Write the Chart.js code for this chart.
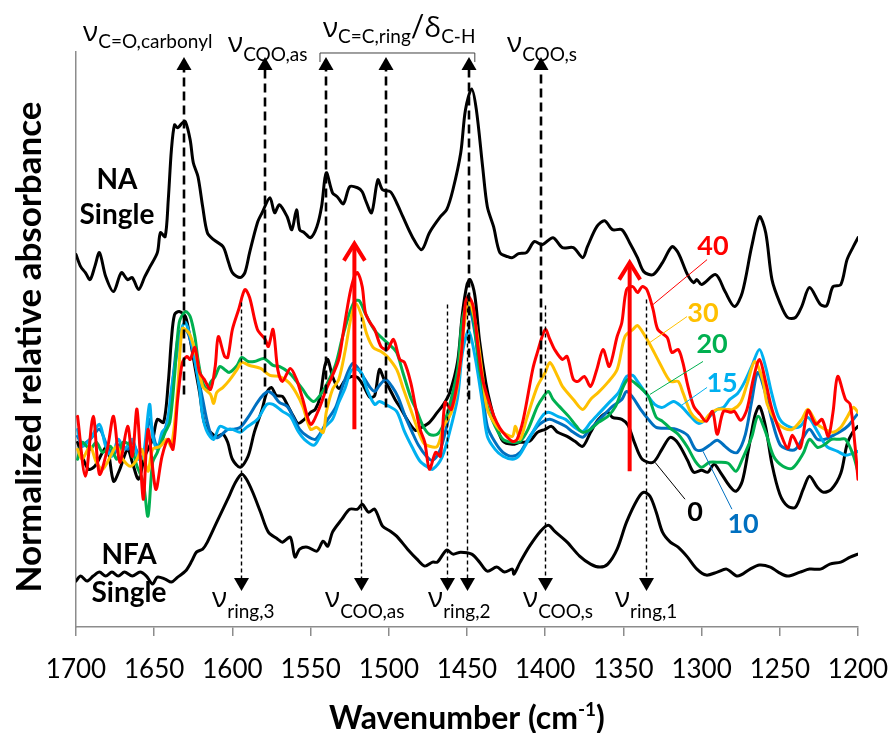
<!DOCTYPE html>
<html>
<head>
<meta charset="utf-8">
<script src="https://cdn.jsdelivr.net/npm/chart.js@4.4.1/dist/chart.umd.min.js"></script>
<style>
  html, body { margin: 0; padding: 0; background: #ffffff; }
  #wrap { width: 892px; height: 733px; }
</style>
</head>
<body>
<div id="wrap"><canvas id="c" width="892" height="733"></canvas></div>
<script>
// ---- spectra: wavenumber (cm-1) and normalized relative absorbance ----
const wnNA = [1700,1697,1694,1691,1688,1685,1681,1676,1671,1667,1664,1660,1656,1653,1648,1646,1643,1641,1639,1637,1635,1632,1630,1627,1625,1622,1619,1616,1612,1606,1603,1600,1595,1592,1589,1584,1581,1576,1573,1570,1565,1562,1559,1557,1554,1550,1546,1543,1540,1536,1533,1529,1525,1520,1517,1515,1511,1507,1504,1499,1495,1491,1485,1479,1474,1467,1463,1459,1454,1451,1447,1444,1440,1437,1433,1429,1424,1421,1417,1412,1407,1402,1395,1389,1382,1376,1373,1367,1362,1357,1351,1346,1341,1337,1331,1325,1319,1315,1309,1305,1303,1300,1291,1285,1279,1274,1268,1263,1259,1255,1250,1245,1240,1236,1231,1224,1220,1216,1211,1207,1203,1200];
const absNA = [0.746,0.722,0.710,0.696,0.722,0.750,0.702,0.672,0.710,0.696,0.700,0.676,0.702,0.720,0.750,0.790,0.782,0.856,0.956,1.006,1.000,1.010,1.012,0.976,0.930,0.902,0.842,0.790,0.776,0.762,0.736,0.710,0.700,0.710,0.750,0.810,0.830,0.860,0.830,0.846,0.822,0.796,0.836,0.796,0.790,0.780,0.802,0.842,0.910,0.870,0.862,0.848,0.882,0.880,0.872,0.856,0.830,0.896,0.876,0.872,0.850,0.822,0.782,0.756,0.790,0.822,0.836,0.876,0.950,1.036,1.078,1.036,0.922,0.842,0.802,0.750,0.742,0.740,0.748,0.750,0.772,0.766,0.780,0.760,0.760,0.740,0.762,0.802,0.814,0.796,0.796,0.770,0.740,0.712,0.706,0.730,0.762,0.750,0.706,0.690,0.696,0.686,0.706,0.672,0.642,0.670,0.762,0.822,0.790,0.696,0.650,0.620,0.620,0.642,0.680,0.646,0.644,0.682,0.686,0.736,0.762,0.780];

const wnNFA = [1700,1697,1693,1689,1685,1681,1677,1673,1669,1664,1659,1655,1651,1648,1643,1639,1635,1630,1626,1623,1619,1616,1610,1603,1598,1594,1591,1587,1582,1577,1571,1568,1563,1560,1557,1552,1546,1542,1539,1536,1530,1525,1520,1517,1513,1509,1504,1499,1495,1488,1482,1477,1472,1469,1463,1459,1454,1447,1442,1437,1431,1426,1421,1420,1416,1410,1403,1398,1394,1386,1378,1371,1365,1360,1354,1348,1341,1337,1333,1329,1325,1320,1315,1309,1303,1297,1290,1284,1277,1269,1263,1256,1251,1245,1237,1231,1224,1218,1211,1205,1200];
const absNFA = [0.092,0.102,0.092,0.102,0.110,0.102,0.110,0.102,0.110,0.102,0.110,0.102,0.086,0.100,0.096,0.090,0.100,0.112,0.132,0.150,0.156,0.170,0.210,0.256,0.290,0.306,0.296,0.270,0.230,0.190,0.176,0.170,0.180,0.140,0.156,0.160,0.152,0.172,0.162,0.190,0.216,0.236,0.236,0.246,0.230,0.236,0.202,0.192,0.182,0.156,0.136,0.122,0.130,0.130,0.154,0.146,0.150,0.146,0.130,0.112,0.120,0.110,0.116,0.106,0.130,0.162,0.192,0.204,0.192,0.170,0.142,0.126,0.120,0.126,0.156,0.210,0.256,0.270,0.262,0.230,0.190,0.170,0.160,0.140,0.116,0.104,0.110,0.116,0.102,0.116,0.124,0.120,0.110,0.102,0.110,0.116,0.116,0.126,0.130,0.140,0.146];

const wn40 = [1699,1694,1689,1685,1680,1676,1672,1667,1664,1661,1657,1654,1649,1645,1641,1638,1635,1632,1629,1627,1624,1621,1618,1614,1611,1609,1605,1603,1600,1596,1592,1589,1584,1579,1577,1574,1571,1568,1563,1559,1555,1550,1545,1540,1536,1532,1529,1525,1522,1520,1517,1515,1512,1509,1505,1501,1497,1493,1490,1486,1483,1480,1477,1474,1470,1467,1464,1460,1454,1451,1449,1446,1443,1440,1435,1431,1427,1421,1418,1414,1408,1405,1400,1397,1394,1389,1386,1382,1379,1375,1371,1367,1363,1359,1354,1351,1348,1344,1341,1338,1335,1331,1328,1322,1319,1315,1312,1309,1305,1301,1297,1293,1290,1286,1281,1279,1275,1271,1267,1263,1259,1255,1250,1245,1242,1237,1232,1227,1223,1219,1216,1213,1208,1205,1202,1200];
const abs40 = [0.422,0.302,0.422,0.306,0.356,0.422,0.330,0.402,0.342,0.436,0.256,0.396,0.276,0.342,0.376,0.356,0.456,0.530,0.542,0.536,0.560,0.510,0.496,0.476,0.522,0.582,0.542,0.540,0.596,0.636,0.676,0.660,0.596,0.576,0.562,0.596,0.516,0.492,0.518,0.496,0.456,0.406,0.434,0.476,0.504,0.536,0.592,0.666,0.702,0.710,0.682,0.630,0.610,0.596,0.562,0.556,0.576,0.536,0.530,0.490,0.442,0.396,0.370,0.316,0.350,0.342,0.450,0.436,0.536,0.650,0.662,0.642,0.562,0.496,0.442,0.410,0.390,0.372,0.376,0.416,0.516,0.550,0.596,0.576,0.556,0.536,0.542,0.496,0.492,0.502,0.482,0.516,0.556,0.522,0.582,0.610,0.676,0.682,0.670,0.682,0.676,0.636,0.596,0.580,0.550,0.556,0.530,0.486,0.442,0.426,0.412,0.432,0.386,0.432,0.430,0.432,0.414,0.436,0.496,0.536,0.490,0.436,0.392,0.358,0.384,0.358,0.434,0.406,0.416,0.382,0.430,0.502,0.456,0.446,0.366,0.296];

const wn30 = [1699,1696,1691,1687,1683,1678,1674,1670,1665,1661,1658,1654,1651,1646,1642,1639,1635,1632,1628,1626,1623,1619,1614,1612,1610,1606,1602,1597,1594,1589,1582,1576,1570,1564,1559,1555,1550,1546,1542,1540,1536,1532,1528,1524,1521,1517,1514,1510,1505,1501,1495,1491,1486,1482,1478,1474,1469,1465,1460,1456,1452,1449,1445,1440,1437,1431,1427,1421,1419,1416,1412,1405,1400,1397,1392,1389,1382,1376,1371,1366,1360,1354,1349,1344,1341,1336,1333,1327,1320,1315,1312,1307,1303,1299,1295,1290,1284,1280,1275,1271,1266,1261,1258,1252,1247,1242,1236,1232,1226,1221,1216,1211,1207,1203,1200];
const abs30 = [0.356,0.336,0.362,0.330,0.316,0.342,0.362,0.336,0.322,0.336,0.356,0.312,0.356,0.362,0.376,0.362,0.476,0.598,0.590,0.576,0.542,0.482,0.466,0.448,0.470,0.480,0.494,0.516,0.530,0.524,0.518,0.504,0.502,0.490,0.468,0.442,0.396,0.400,0.390,0.430,0.476,0.496,0.552,0.622,0.648,0.620,0.586,0.560,0.552,0.542,0.516,0.480,0.436,0.400,0.370,0.362,0.362,0.402,0.430,0.486,0.600,0.652,0.616,0.502,0.436,0.402,0.390,0.382,0.402,0.376,0.416,0.482,0.510,0.530,0.502,0.482,0.456,0.436,0.456,0.470,0.490,0.516,0.582,0.596,0.604,0.582,0.566,0.530,0.492,0.492,0.470,0.430,0.416,0.412,0.426,0.436,0.436,0.436,0.450,0.486,0.532,0.496,0.446,0.410,0.398,0.396,0.416,0.436,0.406,0.396,0.390,0.400,0.420,0.440,0.430];

const wn20 = [1699,1696,1691,1687,1683,1678,1674,1670,1665,1661,1657,1654,1651,1648,1643,1640,1637,1634,1630,1627,1624,1622,1619,1616,1614,1611,1608,1605,1602,1597,1594,1590,1586,1580,1577,1574,1570,1564,1560,1555,1552,1548,1544,1540,1534,1530,1526,1522,1519,1515,1511,1508,1504,1499,1495,1491,1486,1482,1478,1474,1469,1465,1461,1456,1453,1449,1446,1442,1437,1432,1427,1421,1416,1411,1405,1401,1398,1395,1391,1385,1380,1376,1371,1366,1360,1355,1350,1347,1343,1338,1334,1329,1325,1320,1315,1309,1304,1300,1295,1289,1283,1278,1274,1268,1264,1259,1254,1248,1242,1235,1231,1226,1222,1217,1212,1208,1203,1200];
const abs20 = [0.336,0.370,0.356,0.370,0.350,0.362,0.336,0.370,0.362,0.322,0.290,0.222,0.330,0.350,0.390,0.410,0.502,0.610,0.632,0.622,0.582,0.536,0.490,0.476,0.490,0.502,0.522,0.516,0.510,0.524,0.540,0.532,0.532,0.538,0.532,0.524,0.522,0.510,0.496,0.476,0.462,0.452,0.464,0.484,0.526,0.576,0.620,0.652,0.654,0.628,0.604,0.590,0.578,0.564,0.550,0.510,0.460,0.432,0.402,0.386,0.386,0.406,0.446,0.516,0.616,0.656,0.622,0.516,0.442,0.402,0.376,0.370,0.372,0.396,0.442,0.462,0.472,0.456,0.442,0.422,0.402,0.390,0.396,0.410,0.422,0.442,0.482,0.496,0.490,0.476,0.462,0.420,0.412,0.398,0.386,0.360,0.332,0.320,0.330,0.330,0.328,0.312,0.336,0.380,0.422,0.390,0.342,0.322,0.318,0.348,0.376,0.360,0.364,0.376,0.376,0.376,0.344,0.310];

const wn15 = [1699,1696,1691,1685,1681,1677,1673,1669,1664,1660,1657,1653,1651,1648,1645,1642,1639,1635,1632,1630,1627,1624,1621,1619,1616,1612,1608,1603,1600,1595,1591,1584,1578,1574,1568,1563,1558,1554,1548,1545,1541,1536,1532,1528,1524,1520,1517,1514,1509,1506,1501,1495,1490,1485,1480,1475,1472,1466,1461,1456,1453,1449,1445,1440,1437,1432,1427,1421,1417,1413,1408,1402,1398,1392,1387,1382,1376,1371,1365,1359,1353,1348,1344,1341,1335,1330,1325,1318,1313,1307,1302,1297,1290,1286,1282,1277,1273,1268,1263,1259,1255,1250,1243,1237,1232,1226,1220,1213,1208,1203,1200];
const abs15 = [0.396,0.362,0.376,0.406,0.362,0.342,0.376,0.356,0.376,0.336,0.342,0.446,0.382,0.356,0.390,0.402,0.476,0.556,0.602,0.610,0.582,0.536,0.476,0.422,0.390,0.376,0.402,0.396,0.396,0.390,0.400,0.416,0.446,0.446,0.432,0.422,0.392,0.376,0.364,0.376,0.400,0.416,0.450,0.478,0.514,0.516,0.506,0.476,0.446,0.452,0.444,0.432,0.392,0.360,0.332,0.320,0.316,0.340,0.392,0.460,0.548,0.594,0.544,0.446,0.382,0.356,0.342,0.336,0.342,0.362,0.390,0.422,0.430,0.422,0.416,0.402,0.392,0.410,0.430,0.450,0.470,0.502,0.504,0.492,0.466,0.446,0.440,0.452,0.442,0.422,0.408,0.416,0.436,0.440,0.456,0.468,0.488,0.522,0.556,0.520,0.466,0.416,0.400,0.402,0.420,0.392,0.362,0.352,0.344,0.348,0.352];

const wn10 = [1699,1696,1691,1685,1680,1676,1672,1667,1664,1659,1656,1653,1649,1646,1643,1640,1637,1634,1630,1627,1623,1619,1616,1613,1609,1603,1600,1595,1590,1584,1580,1577,1574,1570,1565,1561,1557,1552,1547,1543,1539,1534,1530,1526,1523,1520,1516,1512,1509,1506,1502,1498,1494,1490,1485,1481,1476,1472,1467,1463,1461,1456,1453,1449,1445,1440,1437,1432,1427,1421,1416,1411,1405,1401,1397,1392,1387,1382,1376,1373,1367,1362,1357,1351,1348,1344,1339,1334,1329,1322,1316,1309,1304,1300,1295,1290,1285,1281,1277,1272,1268,1264,1259,1255,1250,1245,1240,1235,1231,1226,1221,1217,1211,1206,1202,1200];
const abs10 = [0.382,0.366,0.376,0.396,0.362,0.346,0.366,0.356,0.370,0.340,0.346,0.416,0.366,0.366,0.396,0.436,0.526,0.590,0.596,0.576,0.516,0.456,0.410,0.382,0.380,0.396,0.396,0.400,0.420,0.450,0.466,0.472,0.466,0.450,0.442,0.420,0.396,0.382,0.376,0.392,0.416,0.440,0.478,0.512,0.528,0.520,0.500,0.480,0.472,0.484,0.496,0.482,0.460,0.426,0.390,0.364,0.342,0.334,0.356,0.402,0.430,0.502,0.602,0.642,0.590,0.470,0.402,0.370,0.350,0.342,0.350,0.376,0.402,0.412,0.416,0.410,0.402,0.390,0.380,0.390,0.410,0.426,0.442,0.456,0.472,0.460,0.436,0.416,0.400,0.398,0.396,0.384,0.356,0.354,0.364,0.374,0.362,0.352,0.350,0.386,0.452,0.510,0.466,0.414,0.366,0.356,0.356,0.380,0.396,0.376,0.376,0.382,0.392,0.404,0.420,0.428];

const wn0 = [1699,1696,1692,1688,1683,1680,1676,1672,1667,1664,1660,1656,1651,1648,1644,1641,1639,1637,1634,1630,1627,1624,1621,1618,1614,1610,1606,1603,1600,1595,1590,1586,1581,1578,1575,1572,1568,1565,1561,1558,1554,1550,1547,1544,1541,1539,1536,1532,1528,1524,1520,1516,1512,1509,1506,1503,1500,1496,1492,1488,1483,1479,1474,1469,1465,1461,1456,1453,1450,1448,1445,1442,1438,1435,1431,1427,1421,1416,1410,1405,1400,1396,1392,1386,1381,1376,1371,1366,1360,1357,1351,1347,1343,1338,1331,1325,1320,1315,1309,1305,1300,1296,1292,1288,1282,1278,1274,1270,1266,1263,1259,1255,1250,1245,1240,1235,1231,1226,1222,1217,1211,1207,1203,1200];
const abs0 = [0.370,0.342,0.316,0.322,0.350,0.362,0.292,0.316,0.356,0.330,0.296,0.342,0.376,0.416,0.410,0.490,0.576,0.626,0.632,0.622,0.576,0.522,0.470,0.410,0.390,0.382,0.386,0.370,0.336,0.320,0.342,0.390,0.436,0.470,0.480,0.464,0.462,0.446,0.422,0.408,0.416,0.430,0.436,0.460,0.522,0.536,0.502,0.478,0.494,0.502,0.500,0.482,0.460,0.464,0.516,0.496,0.480,0.456,0.436,0.414,0.394,0.400,0.410,0.430,0.446,0.470,0.532,0.626,0.686,0.696,0.664,0.574,0.490,0.446,0.402,0.372,0.366,0.370,0.372,0.390,0.396,0.402,0.390,0.382,0.372,0.362,0.390,0.416,0.430,0.420,0.416,0.404,0.370,0.336,0.330,0.358,0.380,0.368,0.334,0.310,0.314,0.310,0.326,0.310,0.282,0.272,0.292,0.356,0.422,0.442,0.400,0.326,0.266,0.242,0.240,0.276,0.302,0.280,0.270,0.276,0.308,0.366,0.392,0.402];

const xTicks = [1700, 1650, 1600, 1550, 1500, 1450, 1400, 1350, 1300, 1250, 1200];
const seriesNames = ['40', '30', '20', '15', '10', '0'];

// ---- band assignments ----
const naBandWn = [1631, 1579, 1540, 1502, 1449, 1403];
const naBandFoot = [0.466, 0.482, 0.44, 0.44, 0.456, 0.50];
const nfaBandWn = [1594.5, 1518, 1463, 1450, 1400, 1335.5];
const nfaBandTop = [0.65, 0.62, 0.646, 0.666, 0.644, 0.656];
const growthWn = [1522, 1346];
const growthFrom = [0.396, 0.312];
const growthTo = [0.770, 0.732];

const FONT = 'Lato, "Open Sans", "DejaVu Sans", sans-serif';
const GREEK = '"Open Sans", "DejaVu Sans", sans-serif';
const COLORS = { '40': '#FF0000', '30': '#FFC000', '20': '#00B050', '15': '#00B0F0', '10': '#0070C0', '0': '#000000' };

function series(label, wn, abs, color) {
  const n = Math.min(wn.length, abs.length);
  const pts = [];
  for (let i = 0; i < n; i++) pts.push({ x: wn[i], y: abs[i] });
  return { label, data: pts, borderColor: color, backgroundColor: color, borderWidth: 3,
           pointRadius: 0, tension: 0.3, fill: false, borderJoinStyle: 'round', borderCapStyle: 'round' };
}

// label layout (wavenumber, absorbance) for series tags and their leader lines
const tagLayout = {
  '40': { at: [1292.7, 0.762], from: [1296.5, 0.736], to: [1331.1, 0.646] },
  '30': { at: [1299.1, 0.628], from: [1309.3, 0.622], to: [1334.9, 0.566] },
  '20': { at: [1293.3, 0.566], from: [1299.1, 0.532], to: [1333.0, 0.466] },
  '15': { at: [1286.9, 0.488], from: [1296.5, 0.480], to: [1313.8, 0.442] },
  '10': { at: [1273.5, 0.206], from: [1280.6, 0.236], to: [1299.1, 0.352] },
  '0':  { at: [1304.2, 0.230], from: [1310.6, 0.256], to: [1329.8, 0.330] }
};

// band labels: [wavenumber of left edge, absorbance of baseline, runs]
const topLabels = [
  [1695.5, 1.174, [['ν', 28, 0, 1], ['C=O,carbonyl', 19, 7]]],
  [1602.8, 1.152, [['ν', 28, 0, 1], ['COO,as', 19, 9]]],
  [1542.1, 1.182, [['ν', 28, 0, 1], ['C=C,ring', 19, 6], ['/', 30, 0], ['δ', 28, 0, 1], ['C-H', 19, 6]]],
  [1424.4, 1.152, [['ν', 28, 0, 1], ['COO,s', 19, 9]]]
];
const bottomLabels = [
  [1613.0, 0.040, [['ν', 28, 0, 1], ['ring,3', 19, 11]]],
  [1540.8, 0.040, [['ν', 28, 0, 1], ['COO,as', 19, 11]]],
  [1474.9, 0.040, [['ν', 28, 0, 1], ['ring,2', 19, 11]]],
  [1414.2, 0.040, [['ν', 28, 0, 1], ['COO,s', 19, 11]]],
  [1355.4, 0.040, [['ν', 28, 0, 1], ['ring,1', 19, 11]]]
];

function drawRuns(ctx, x, y, runs) {
  let cx = x;
  ctx.textAlign = 'left';
  ctx.textBaseline = 'alphabetic';
  runs.forEach(([t, size, dy, greek]) => {
    ctx.font = `${size}px ${greek ? GREEK : FONT}`;
    ctx.fillText(t, cx, y + dy);
    cx += ctx.measureText(t).width;
  });
}

function tri(ctx, x, tipY, dir) {
  ctx.beginPath();
  ctx.moveTo(x, tipY);
  ctx.lineTo(x - 7.5, tipY + dir * 13);
  ctx.lineTo(x + 7.5, tipY + dir * 13);
  ctx.closePath();
  ctx.fill();
}

const annotations = {
  id: 'bandAnnotations',
  afterDraw(chart) {
    const { ctx, scales: { x, y } } = chart;
    const px = w => x.getPixelForValue(w);
    const py = v => y.getPixelForValue(v);
    ctx.save();

    // NA bands: bold dashed arrows pointing up
    ctx.strokeStyle = '#000'; ctx.fillStyle = '#000';
    naBandWn.forEach((w, i) => {
      const X = Math.round(px(w)), tip = py(1.142);
      ctx.lineWidth = 2.6; ctx.setLineDash([9, 5]);
      ctx.beginPath(); ctx.moveTo(X, py(naBandFoot[i])); ctx.lineTo(X, tip + 12); ctx.stroke();
      ctx.setLineDash([]);
      tri(ctx, X, tip, 1);
    });

    // bracket over the ring / C-H group
    ctx.lineWidth = 1; ctx.strokeStyle = '#404040';
    ctx.beginPath();
    ctx.moveTo(px(1544), py(1.132)); ctx.lineTo(px(1544), py(1.150));
    ctx.lineTo(px(1445), py(1.150)); ctx.lineTo(px(1445), py(1.132));
    ctx.stroke();

    // NFA bands: thin dashed arrows pointing down
    ctx.strokeStyle = '#000'; ctx.fillStyle = '#000';
    nfaBandWn.forEach((w, i) => {
      const X = Math.round(px(w)) + 0.5, tip = py(0.072);
      ctx.lineWidth = 1.4; ctx.setLineDash([4, 3]);
      ctx.beginPath(); ctx.moveTo(X, py(nfaBandTop[i])); ctx.lineTo(X, tip - 12); ctx.stroke();
      ctx.setLineDash([]);
      tri(ctx, X, tip, -1);
    });

    // growth arrows
    ctx.strokeStyle = '#FF0000'; ctx.lineWidth = 4; ctx.lineJoin = 'miter'; ctx.lineCap = 'butt';
    growthWn.forEach((w, i) => {
      const X = px(w), y0 = py(growthFrom[i]), y1 = py(growthTo[i]);
      ctx.beginPath(); ctx.moveTo(X, y0); ctx.lineTo(X, y1 + 2); ctx.stroke();
      ctx.beginPath(); ctx.moveTo(X - 10.5, y1 + 18); ctx.lineTo(X, y1 + 1); ctx.lineTo(X + 10.5, y1 + 18); ctx.stroke();
    });

    // series tags with leader lines
    seriesNames.forEach(name => {
      const L = tagLayout[name], c = COLORS[name];
      ctx.strokeStyle = c; ctx.lineWidth = 1;
      ctx.beginPath(); ctx.moveTo(px(L.from[0]), py(L.from[1])); ctx.lineTo(px(L.to[0]), py(L.to[1])); ctx.stroke();
      ctx.fillStyle = c; ctx.font = `bold 27px ${FONT}`;
      ctx.textAlign = 'center'; ctx.textBaseline = 'middle';
      ctx.fillText(name, px(L.at[0]), py(L.at[1]));
    });

    // band labels
    ctx.fillStyle = '#000';
    topLabels.concat(bottomLabels).forEach(([w, v, runs]) => drawRuns(ctx, px(w), py(v), runs));

    // spectrum names
    ctx.font = `bold 28px ${FONT}`; ctx.textAlign = 'center'; ctx.textBaseline = 'alphabetic';
    ctx.fillText('NA', px(1673.8), py(0.878));
    ctx.fillText('Single', px(1673.8), py(0.808));
    ctx.fillText('NFA', px(1666.1), py(0.126));
    ctx.fillText('Single', px(1666.1), py(0.050));

    // axis titles
    ctx.save();
    ctx.translate(30, 347);
    ctx.rotate(-Math.PI / 2);
    ctx.font = `bold 35px ${FONT}`; ctx.textAlign = 'center'; ctx.textBaseline = 'middle';
    ctx.fillText('Normalized relative absorbance', 0, 0);
    ctx.restore();

    const t1 = 'Wavenumber (cm', t2 = '-1', t3 = ')';
    ctx.textAlign = 'left'; ctx.textBaseline = 'alphabetic';
    ctx.font = `bold 32px ${FONT}`; const w1 = ctx.measureText(t1).width, w3 = ctx.measureText(t3).width;
    ctx.font = `bold 19px ${FONT}`; const w2 = ctx.measureText(t2).width;
    let sx = (chart.chartArea.left + chart.chartArea.right) / 2 - (w1 + w2 + w3) / 2;
    const base = 729;
    ctx.font = `bold 32px ${FONT}`; ctx.fillText(t1, sx, base); sx += w1;
    ctx.font = `bold 19px ${FONT}`; ctx.fillText(t2, sx, base - 13); sx += w2;
    ctx.font = `bold 32px ${FONT}`; ctx.fillText(t3, sx, base);

    ctx.restore();
  }
};

new Chart(document.getElementById('c'), {
  type: 'line',
  data: {
    datasets: [
      series('40', wn40, abs40, COLORS['40']),
      series('30', wn30, abs30, COLORS['30']),
      series('20', wn20, abs20, COLORS['20']),
      series('15', wn15, abs15, COLORS['15']),
      series('10', wn10, abs10, COLORS['10']),
      series('0', wn0, abs0, COLORS['0']),
      series('NA Single', wnNA, absNA, '#000000'),
      series('NFA Single', wnNFA, absNFA, '#000000')
    ]
  },
  options: {
    responsive: false,
    animation: false,
    devicePixelRatio: 1,
    layout: { padding: { top: 52, right: 34, left: 0, bottom: 0 } },
    plugins: { legend: { display: false }, tooltip: { enabled: false } },
    scales: {
      x: {
        type: 'linear', reverse: true, min: 1200, max: 1700,
        afterBuildTicks: s => { s.ticks = xTicks.map(v => ({ value: v })); },
        ticks: { color: '#000', font: { family: FONT, size: 26 }, padding: 18, maxRotation: 0, autoSkip: false,
                 callback: v => String(v) },
        grid: { display: true, drawOnChartArea: false, drawTicks: true, tickLength: 9, color: '#8c8c8c', lineWidth: 1.5 },
        border: { display: true, color: '#8c8c8c', width: 1.5 },
        afterFit: s => { s.height = 106; s.paddingLeft = 0; s.paddingRight = 0; }
      },
      y: {
        min: 0, max: 1.152,
        ticks: { display: false },
        grid: { display: false, drawTicks: false },
        border: { display: true, color: '#8c8c8c', width: 1.5 },
        afterFit: s => { s.width = 76; }
      }
    }
  },
  plugins: [annotations]
});
</script>
</body>
</html>
